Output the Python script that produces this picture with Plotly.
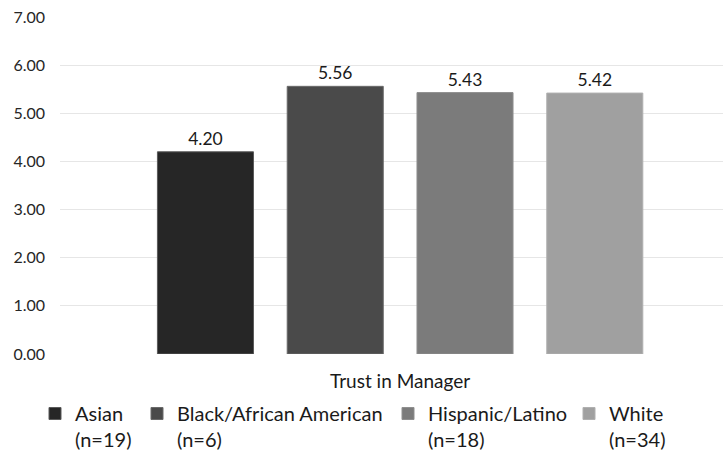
import plotly.graph_objects as go

categories = ["Trust in Manager"]
series_names = ["Asian<br>(n=19)", "Black/African American<br>(n=6)",
                "Hispanic/Latino<br>(n=18)", "White<br>(n=34)"]
series_values = [[4.20], [5.56], [5.43], [5.42]]
colors = ["#262626", "#4a4a4a", "#7b7b7b", "#a0a0a0"]
line_colors = ["#5a5a5a", "#6a6a6a", "#8f8f8f", "#b0b0b0"]
y_ticks = [0, 1, 2, 3, 4, 5, 6, 7]
legend_x_px = [35, 137, 388, 569]

W, H = 723, 451
FONT = "Lato"

fig = go.Figure()
for i, (name, vals) in enumerate(zip(series_names, series_values)):
    lg = "legend" if i == 0 else f"legend{i+1}"
    fig.add_trace(go.Bar(
        x=categories, y=vals, name=name,
        marker=dict(color=colors[i], line=dict(color=line_colors[i], width=1)),
        texttemplate="%{y:.2f}", textposition="outside",
        textfont=dict(family=FONT, size=17.5, color="#1a1a1a"),
        cliponaxis=False, legend=lg,
    ))

layout_legends = {}
for i, px in enumerate(legend_x_px):
    key = "legend" if i == 0 else f"legend{i+1}"
    layout_legends[key] = dict(
        x=px / W, y=1 - 394 / H, xref="container", yref="container",
        xanchor="left", yanchor="top", orientation="h",
        font=dict(family=FONT, size=20, color="#1a1a1a"),
        bgcolor="rgba(0,0,0,0)", borderwidth=0, valign="top",
        tracegroupgap=0,
    )

fig.update_layout(
    width=W, height=H,
    margin=dict(l=60, r=0, t=17, b=97),
    paper_bgcolor="white", plot_bgcolor="white",
    barmode="group", bargap=0.217, bargroupgap=0.26,
    showlegend=True,
    font=dict(family=FONT, color="#404040"),
    xaxis=dict(
        type="category", range=[-0.513, 0.487],
        showgrid=False, zeroline=False, showline=False,
        ticks="", ticklabelstandoff=14,
        tickfont=dict(family=FONT, size=19, color="#1a1a1a"),
    ),
    yaxis=dict(
        range=[0, 7], tickvals=y_ticks, tickformat=".2f",
        showgrid=True, gridcolor="#e6e6e6", gridwidth=1,
        zeroline=False, showline=False, ticks="",
        ticklabelstandoff=14,
        tickfont=dict(family=FONT, size=16, color="#262626"),
    ),
    **layout_legends,
)

fig.write_html("out.html", config={"displayModeBar": False},
               post_script="document.body.style.margin='0';")
